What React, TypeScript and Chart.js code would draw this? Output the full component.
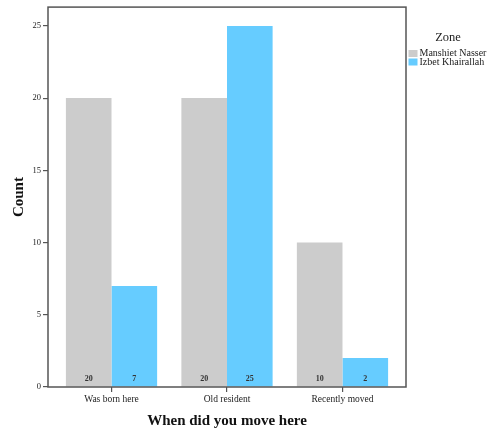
import React, { useEffect, useRef } from "react";
import { Chart, registerables } from "chart.js";

Chart.register(...registerables);

const categories = ["Was born here", "Old resident", "Recently moved"];
const seriesNames = ["Manshiet Nasser", "Izbet Khairallah"];
const manshietNasser = [20, 20, 10];
const izbetKhairallah = [7, 25, 2];
const yTicks = [0, 5, 10, 15, 20, 25];
const legendTitle = "Zone";
const xTitle = "When did you move here";
const yTitle = "Count";

const colors = ["#cccccc", "#66ccff"];
const SERIF = "'Liberation Serif', 'DejaVu Serif', serif";

const framePlugin = {
  id: "frame",
  afterDraw(chart: any) {
    const { ctx, chartArea } = chart;
    ctx.save();
    ctx.strokeStyle = "#555";
    ctx.lineWidth = 1.5;
    ctx.strokeRect(chartArea.left, chartArea.top, chartArea.right - chartArea.left, chartArea.bottom - chartArea.top);
    ctx.restore();
  },
};

const valueLabelPlugin = {
  id: "valueLabels",
  afterDatasetsDraw(chart: any) {
    const { ctx } = chart;
    ctx.save();
    ctx.font = `bold 8px ${SERIF}`;
    ctx.fillStyle = "#333";
    ctx.textAlign = "center";
    ctx.textBaseline = "middle";
    chart.data.datasets.forEach((ds: any, i: number) => {
      const meta = chart.getDatasetMeta(i);
      meta.data.forEach((el: any, j: number) => {
        const v = ds.data[j].y;
        ctx.fillText(String(v), el.x, el.base - 7);
      });
    });
    ctx.restore();
  },
};

const legendPlugin = {
  id: "customLegend",
  afterDraw(chart: any) {
    const { ctx, chartArea } = chart;
    ctx.save();
    ctx.fillStyle = "#222";
    ctx.font = `12.5px ${SERIF}`;
    ctx.textAlign = "center";
    ctx.textBaseline = "middle";
    ctx.fillText(legendTitle, 448, 38);
    ctx.font = `10px ${SERIF}`;
    ctx.textAlign = "left";
    chart.data.datasets.forEach((ds: any, i: number) => {
      const y = 53.5 + i * 8.5;
      ctx.fillStyle = ds.backgroundColor;
      ctx.fillRect(chartArea.right + 2.5, y - 3.5, 9, 7);
      ctx.fillStyle = "#222";
      ctx.fillText(ds.label, 419.5, y);
    });
    ctx.restore();
  },
};

export default function App() {
  const ref = useRef<HTMLCanvasElement>(null);
  useEffect(() => {
    document.body.style.margin = "0";
    const canvas = ref.current!;
    const chart = new Chart(canvas, {
      type: "bar",
      data: {
        datasets: [manshietNasser, izbetKhairallah].map((vals, i) => ({
          label: seriesNames[i],
          data: vals.map((v, j) => ({ x: j, y: v })),
          backgroundColor: colors[i],
          borderWidth: 0,
          categoryPercentage: 0.79,
          barPercentage: 1,
        })),
      },
      options: {
        responsive: false,
        animation: false,
        devicePixelRatio: 1,
        layout: { padding: { top: 6, right: 83, left: 0, bottom: 0 } },
        plugins: { legend: { display: false }, tooltip: { enabled: false } },
        scales: {
          x: {
            type: "linear",
            offset: false,
            min: -0.55,
            max: 2.55,
            afterBuildTicks(scale: any) {
              scale.ticks = categories.map((_, i) => ({ value: i }));
            },
            afterFit(scale: any) {
              scale.height = 43;
            },
            ticks: {
              autoSkip: false,
              maxRotation: 0,
              padding: 2,
              color: "#222",
              font: { family: SERIF, size: 9.5 },
              callback: (v: any) => categories[v] ?? "",
            },
            grid: { offset: false, drawOnChartArea: false, drawTicks: true, tickLength: 5, color: "#555", lineWidth: 1.2 },
            border: { display: false },
            title: {
              display: true,
              text: xTitle,
              color: "#111",
              font: { family: SERIF, size: 15, weight: "bold" },
              padding: { top: 2, bottom: 0 },
            },
          },
          y: {
            min: 0,
            max: 26.3,
            afterBuildTicks(scale: any) {
              scale.ticks = yTicks.map((v) => ({ value: v }));
            },
            afterFit(scale: any) {
              scale.width = 48;
            },
            ticks: {
              padding: 2,
              color: "#222",
              font: { family: SERIF, size: 8.5 },
            },
            grid: { drawOnChartArea: false, drawTicks: true, tickLength: 5, color: "#555", lineWidth: 1.2 },
            border: { display: false },
            title: {
              display: true,
              text: yTitle,
              color: "#111",
              font: { family: SERIF, size: 15, weight: "bold" },
              padding: { top: 10, bottom: 0 },
            },
          },
        },
      } as any,
      plugins: [framePlugin, valueLabelPlugin, legendPlugin],
    });
    return () => chart.destroy();
  }, []);
  return <canvas ref={ref} width={489} height={430} style={{ display: "block" }} />;
}
